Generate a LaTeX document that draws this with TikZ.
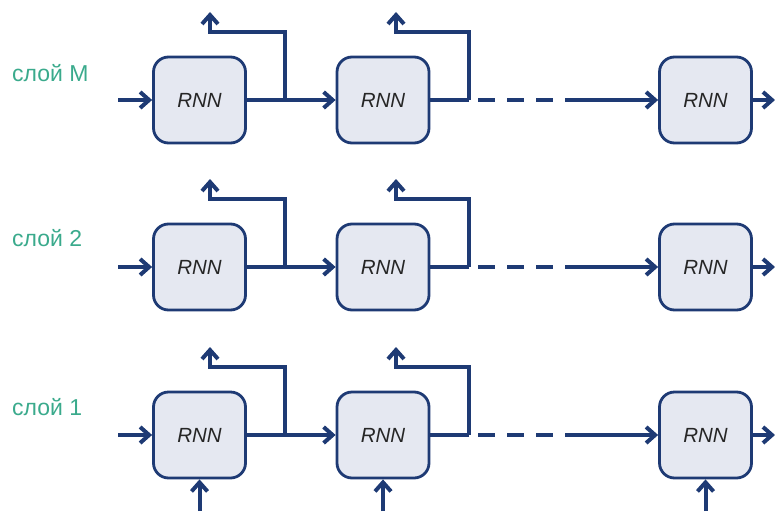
\documentclass[tikz,border=0pt]{standalone}
\usepackage{fontspec}
\setmainfont{Liberation Sans}
\usetikzlibrary{arrows.meta}
\definecolor{navy}{HTML}{1E3A74}
\definecolor{boxfill}{HTML}{E5E8F1}
\definecolor{layergreen}{HTML}{3AAA8C}
\begin{document}
\begin{tikzpicture}[x=1pt,y=-1pt,
  rnn/.style={draw=navy, line width=2.8pt, fill=boxfill, rounded corners=15pt,
    minimum width=92pt, minimum height=86pt, inner sep=0pt,
    font=\fontsize{20.5}{24}\selectfont\itshape, text=black!85},
  conn/.style={draw=navy, line width=4pt},
  arr/.style={conn, -{Straight Barb[length=9pt,width=16pt]}},
  lbl/.style={text=layergreen, font=\fontsize{23}{27}\selectfont, anchor=west, inner sep=0pt}]
\useasboundingbox (0,0) rectangle (775,511);
\foreach \Y/\n/\ly in {100/M/73, 267/2/238, 435/1/407}{
  \node[lbl] (l\n) at (12,\ly) {слой \n};
  \node[rnn] (a\n) at (199.5,\Y) {RNN};
  \node[rnn] (b\n) at (383,\Y) {RNN};
  \node[rnn] (c\n) at (705.5,\Y) {RNN};
  \coordinate (in\n) at (118,\Y);
  \coordinate (p\n) at (285,\Y);
  \coordinate (pk\n) at (285,\Y-68);
  \coordinate (pt\n) at (210,\Y-88);
  \coordinate (q\n) at (469,\Y);
  \coordinate (qk\n) at (469,\Y-68);
  \coordinate (qt\n) at (396,\Y-88);
  \coordinate (ds\n) at (478,\Y);
  \coordinate (de\n) at (553,\Y);
  \coordinate (ss\n) at (565,\Y);
  \coordinate (out\n) at (775,\Y);
  \draw[arr] (in\n) -- (a\n.west);
  \draw[arr] (a\n.east) -- (b\n.west);
  \draw[arr] (p\n) -- (pk\n) -| (pt\n);
  \draw[conn] (b\n.east) -- (q\n);
  \draw[arr] (q\n) -- (qk\n) -| (qt\n);
  \draw[conn, dash pattern=on 17pt off 12pt] (ds\n) -- (de\n);
  \draw[arr] (ss\n) -- (c\n.west);
  \draw[arr] (c\n.east) -- (out\n);
}
\foreach \b in {a,b,c}{
  \coordinate (u\b) at (\b1.south |- 0,511);
  \draw[arr] (u\b) -- (\b1.south);
}
\end{tikzpicture}
\end{document}
